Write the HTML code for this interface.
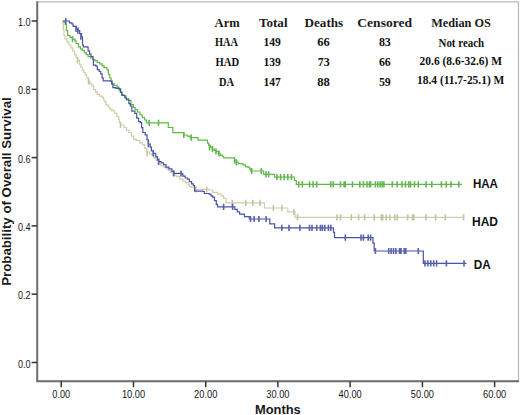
<!DOCTYPE html>
<html><head><meta charset="utf-8"><title>Kaplan-Meier Overall Survival</title>
<style>
html,body{margin:0;padding:0;background:#fff;}
body{width:520px;height:415px;overflow:hidden;font-family:"Liberation Sans", sans-serif;}
svg{display:block;}
</style></head><body>
<svg width="520" height="415" viewBox="0 0 520 415"><rect x="37.5" y="1.9" width="481" height="379.4" fill="none" stroke="#bdbdbd" stroke-width="1.3"/>
<path d="M37.2 1.2V381.2H519" fill="none" stroke="#6c6c6c" stroke-width="1.9"/>
<path d="M31.6 362.5H37" stroke="#333" stroke-width="1.5"/>
<text x="30.6" y="367.5" font-size="10.00" font-weight="normal" font-family='"Liberation Sans", sans-serif' fill="#161616" text-anchor="end" textLength="12.6" lengthAdjust="spacingAndGlyphs">0.0</text>
<path d="M31.6 294.2H37" stroke="#333" stroke-width="1.5"/>
<text x="30.6" y="299.2" font-size="10.00" font-weight="normal" font-family='"Liberation Sans", sans-serif' fill="#161616" text-anchor="end" textLength="12.6" lengthAdjust="spacingAndGlyphs">0.2</text>
<path d="M31.6 225.9H37" stroke="#333" stroke-width="1.5"/>
<text x="30.6" y="230.9" font-size="10.00" font-weight="normal" font-family='"Liberation Sans", sans-serif' fill="#161616" text-anchor="end" textLength="12.6" lengthAdjust="spacingAndGlyphs">0.4</text>
<path d="M31.6 157.6H37" stroke="#333" stroke-width="1.5"/>
<text x="30.6" y="162.6" font-size="10.00" font-weight="normal" font-family='"Liberation Sans", sans-serif' fill="#161616" text-anchor="end" textLength="12.6" lengthAdjust="spacingAndGlyphs">0.6</text>
<path d="M31.6 89.3H37" stroke="#333" stroke-width="1.5"/>
<text x="30.6" y="94.3" font-size="10.00" font-weight="normal" font-family='"Liberation Sans", sans-serif' fill="#161616" text-anchor="end" textLength="12.6" lengthAdjust="spacingAndGlyphs">0.8</text>
<path d="M31.6 21.0H37" stroke="#333" stroke-width="1.5"/>
<text x="30.6" y="26.0" font-size="10.00" font-weight="normal" font-family='"Liberation Sans", sans-serif' fill="#161616" text-anchor="end" textLength="12.6" lengthAdjust="spacingAndGlyphs">1.0</text>
<path d="M61.2 381.5V387.2" stroke="#333" stroke-width="1.5"/>
<text x="61.2" y="397.6" font-size="10.00" font-weight="normal" font-family='"Liberation Sans", sans-serif' fill="#161616" text-anchor="middle" textLength="17.8" lengthAdjust="spacingAndGlyphs">0.00</text>
<path d="M133.5 381.5V387.2" stroke="#333" stroke-width="1.5"/>
<text x="133.5" y="397.6" font-size="10.00" font-weight="normal" font-family='"Liberation Sans", sans-serif' fill="#161616" text-anchor="middle" textLength="23.2" lengthAdjust="spacingAndGlyphs">10.00</text>
<path d="M205.7 381.5V387.2" stroke="#333" stroke-width="1.5"/>
<text x="205.7" y="397.6" font-size="10.00" font-weight="normal" font-family='"Liberation Sans", sans-serif' fill="#161616" text-anchor="middle" textLength="23.2" lengthAdjust="spacingAndGlyphs">20.00</text>
<path d="M277.9 381.5V387.2" stroke="#333" stroke-width="1.5"/>
<text x="277.9" y="397.6" font-size="10.00" font-weight="normal" font-family='"Liberation Sans", sans-serif' fill="#161616" text-anchor="middle" textLength="23.2" lengthAdjust="spacingAndGlyphs">30.00</text>
<path d="M350.1 381.5V387.2" stroke="#333" stroke-width="1.5"/>
<text x="350.1" y="397.6" font-size="10.00" font-weight="normal" font-family='"Liberation Sans", sans-serif' fill="#161616" text-anchor="middle" textLength="23.2" lengthAdjust="spacingAndGlyphs">40.00</text>
<path d="M422.4 381.5V387.2" stroke="#333" stroke-width="1.5"/>
<text x="422.4" y="397.6" font-size="10.00" font-weight="normal" font-family='"Liberation Sans", sans-serif' fill="#161616" text-anchor="middle" textLength="23.2" lengthAdjust="spacingAndGlyphs">50.00</text>
<path d="M494.6 381.5V387.2" stroke="#333" stroke-width="1.5"/>
<text x="494.6" y="397.6" font-size="10.00" font-weight="normal" font-family='"Liberation Sans", sans-serif' fill="#161616" text-anchor="middle" textLength="23.2" lengthAdjust="spacingAndGlyphs">60.00</text>
<text x="254.9" y="414.4" font-size="13.20" font-weight="bold" font-family='"Liberation Sans", sans-serif' fill="#1a1a1a" text-anchor="start" textLength="45.9" lengthAdjust="spacingAndGlyphs">Months</text>
<g transform="translate(11.2 285.8) rotate(-90)"><text x="0.0" y="0.0" font-size="12.00" font-weight="bold" font-family='"Liberation Sans", sans-serif' fill="#1a1a1a" text-anchor="start" textLength="188.6" lengthAdjust="spacingAndGlyphs">Probability of Overall Survival</text></g>
<defs><filter id="bl" x="-5%" y="-5%" width="110%" height="110%"><feGaussianBlur stdDeviation="0.3"/></filter></defs>
<g filter="url(#bl)">
<path d="M62.3 21.5H62.8V24.0H63.4V29.5H64.0V35.5H65.2V39.1H67.0V42.1H68.9V45.0H70.8V47.9H72.7V50.8H74.6V54.6H76.1V57.5H77.5V60.4H79.5V64.3H80.9V67.2H82.3V70.1H83.8V72.5H85.2V74.9H86.7V77.8H88.6V81.6H90.1V83.6H91.8V85.9H93.6V89.5H95.4V91.9H97.2V94.3H99.6V96.1H102.0V97.3H103.6V100.0H104.8V101.8H106.0V104.8H108.4V107.2H110.0V109.4H112.0V110.8H114.5V113.3H116.9V116.3H118.7V119.3H119.3V122.3H120.5V125.0H124.1V127.7H126.5V130.1H128.9V132.5H131.3V136.1H133.7V139.2H136.1V140.4H139.8V142.8H142.4V144.8H144.8V148.4H146.6V152.0H149.6V153.9H152.0V155.7H153.9V158.1H156.3V160.5H158.1V164.7H161.1V165.9H164.1V167.7H166.5V168.9H168.3V170.7H170.7V172.5H173.1V174.9H176.1V176.7H179.8V179.2H182.8V181.0H185.8V182.8H188.2V184.6H189.6V186.3H191.0V187.3H194.6V189.3H209.1V190.0H212.7V192.3H217.5V194.1H221.1V195.9H223.6V198.3H226.0V202.9H263.7H264.5V208.0H286.5H287.8V211.8H294.5H295.0V217.3H464.5" fill="none" stroke="#cfcdac" stroke-width="1.2"/>
<path d="M77.5 57.3v6.2M88.6 78.5v6.2M120.5 121.9v6.2M147.2 150.2v6.2M196.0 186.2v6.2M206.7 186.4v6.2M232.3 199.8v6.2M245.7 199.8v6.2M252.8 199.8v6.2M260.0 199.8v6.2M273.4 204.9v6.2M281.8 204.9v6.2M293.9 208.7v6.2M297.5 214.2v6.2M336.9 214.2v6.2M340.5 214.2v6.2M351.3 214.2v6.2M358.6 214.2v6.2M364.6 214.2v6.2M374.2 214.2v6.2M381.4 214.2v6.2M382.7 214.2v6.2M386.3 214.2v6.2M389.9 214.2v6.2M394.7 214.2v6.2M397.1 214.2v6.2M407.7 214.2v6.2M412.5 214.2v6.2M413.8 214.2v6.2M426.0 214.2v6.2M435.6 214.2v6.2M445.3 214.2v6.2M463.6 214.2v6.2" fill="none" stroke="#c6c4a0" stroke-width="1.6"/>
<path d="M63.2 21.2H64.0V22.5H65.2V24.6H66.4V30.7H67.6V35.5H70.0V37.3H72.5V39.1H74.9V40.9H76.1V43.5H78.5V46.9H80.4V48.9H82.3V50.3H84.3V52.7H86.2V54.6H88.1V56.6H90.5V58.0H93.0V59.5H94.9V60.9H97.3V62.3H99.7V63.8H102.1V65.7H104.0V67.7H106.9V69.6H108.0V70.8H108.5V74.5H109.8V78.0H111.1V81.1H112.3V83.5H114.1V85.3H117.1V87.1H118.9V90.1H120.1V91.9H121.9V94.9H124.3V96.1H126.1V98.6H128.6V100.4H131.0V104.6H133.4V107.6H135.2V109.6H137.5V112.0H140.0V114.8H142.3V117.7H144.6V120.0H146.5V122.9H167.7H168.3V127.5H172.3H172.9V132.7H181.5H183.8V135.0H187.3V136.1H190.0V137.7H197.8H198.0V140.1H206.3H207.5V143.1H208.7V145.5H210.5V147.3H212.3V149.1H214.1V150.3H215.9V151.5H218.3V153.3H220.1V155.1H222.5V156.3H223.7V157.8H234.0H234.6V160.5H236.4V162.3H238.2V163.6H241.2H243.0V164.8H245.4V166.6H247.8V167.2H249.6V169.0H250.5V171.0H262.6H263.7V174.3H273.1H274.5V177.1H293.9H294.5V180.5H296.3V184.3H462.0" fill="none" stroke="#5fb948" stroke-width="1.2"/>
<path d="M72.5 36.0v6.2M149.2 119.8v6.2M158.5 119.8v6.2M183.8 131.9v6.2M191.2 134.6v6.2M209.5 144.2v6.2M212.5 146.0v6.2M216.0 148.4v6.2M219.0 150.2v6.2M234.6 157.4v6.2M236.4 159.2v6.2M251.7 167.9v6.2M261.3 167.9v6.2M266.1 171.2v6.2M268.6 171.2v6.2M277.0 174.0v6.2M280.6 174.0v6.2M284.2 174.0v6.2M287.8 174.0v6.2M291.4 174.0v6.2M298.7 181.2v6.2M302.3 181.2v6.2M309.5 181.2v6.2M313.1 181.2v6.2M316.7 181.2v6.2M330.8 181.2v6.2M333.3 181.2v6.2M340.5 181.2v6.2M344.1 181.2v6.2M345.3 181.2v6.2M352.5 181.2v6.2M359.8 181.2v6.2M363.4 181.2v6.2M367.0 181.2v6.2M369.4 181.2v6.2M370.6 181.2v6.2M375.4 181.2v6.2M377.8 181.2v6.2M380.2 181.2v6.2M382.2 181.2v6.2M383.9 181.2v6.2M392.3 181.2v6.2M397.1 181.2v6.2M401.9 181.2v6.2M405.5 181.2v6.2M408.7 181.2v6.2M410.6 181.2v6.2M414.5 181.2v6.2M418.3 181.2v6.2M426.0 181.2v6.2M431.8 181.2v6.2M441.4 181.2v6.2M446.2 181.2v6.2M451.1 181.2v6.2M458.8 181.2v6.2" fill="none" stroke="#66b552" stroke-width="1.6"/>
<path d="M62.8 21.0H68.8H69.4V22.8H71.9V24.0H73.1V26.4H76.1V28.9H77.9V30.7H79.7V33.7H81.5V36.7H82.3V38.5H82.5V45.0H83.3V46.9H87.2V47.2H88.1V50.8H89.6V54.2H91.0V56.6H93.0V59.5H93.4V65.2H95.8V66.2H97.3V69.6H99.2V71.5H100.7V73.9H102.1V77.8H103.2V80.8H109.9V81.1H111.7V84.1H112.9V87.7H115.9V88.3H119.5V88.9H120.7V92.5H121.9V95.5H124.9V98.0H126.5V100.0H128.9V103.6H130.4V106.0H131.9V111.2H134.9V113.3H136.7V118.1H138.6V121.7H140.4V122.3H141.6V127.7H142.8V132.5H145.2V134.9H147.0V139.8H148.4V144.2H150.2V147.2H151.4V150.8H153.3V153.3H155.7V156.9H157.5V159.9H158.7V161.7H161.1V162.9H163.5V164.7H165.9V167.1H168.9V168.9H171.9V171.3H173.7V173.3H181.0V173.5H182.8V176.1H185.2V178.0H187.6V179.2H189.4V181.6H191.6V183.9H193.4V185.7H194.6V191.1H203.1V191.5H204.3V193.5H209.1V194.1H210.9V195.9H212.7V197.1H214.5V200.7H216.3V204.3H217.5V206.8H232.8H234.8V209.4H237.2V211.8H239.6V214.2H244.5V216.6H249.3V219.0H267.3H269.8V223.9H274.6V227.9H332.5H333.5V232.3H334.5V237.6H372.0H373.0V243.1H374.2V251.0H423.1H423.3V263.4H466.5" fill="none" stroke="#4852a8" stroke-width="1.2"/>
<path d="M65.8 17.9v6.2M76.1 25.8v6.2M77.9 27.6v6.2M80.9 33.6v6.2M148.4 141.1v6.2M153.3 150.2v6.2M158.7 158.6v6.2M173.7 170.2v6.2M181.0 170.4v6.2M223.6 203.7v6.2M232.6 203.7v6.2M250.5 215.9v6.2M254.1 215.9v6.2M258.9 215.9v6.2M266.1 215.9v6.2M281.8 224.8v6.2M289.0 224.8v6.2M299.9 224.8v6.2M309.5 224.8v6.2M312.0 224.8v6.2M316.7 224.8v6.2M320.4 224.8v6.2M322.4 224.8v6.2M324.8 224.8v6.2M328.4 224.8v6.2M330.8 224.8v6.2M345.3 234.5v6.2M361.0 234.5v6.2M363.4 234.5v6.2M368.2 234.5v6.2M370.6 234.5v6.2M375.4 247.9v6.2M388.7 247.9v6.2M391.1 247.9v6.2M393.5 247.9v6.2M395.9 247.9v6.2M399.5 247.9v6.2M401.0 247.9v6.2M404.3 247.9v6.2M405.8 247.9v6.2M418.3 247.9v6.2M425.0 260.3v6.2M427.9 260.3v6.2M430.8 260.3v6.2M433.7 260.3v6.2M436.6 260.3v6.2M446.4 260.3v6.2M464.0 260.3v6.2" fill="none" stroke="#5a62aa" stroke-width="1.6"/>
</g>
<text x="472.9" y="188.3" font-size="13.00" font-weight="bold" font-family='"Liberation Sans", sans-serif' fill="#111" text-anchor="start" textLength="25.1" lengthAdjust="spacingAndGlyphs">HAA</text>
<text x="472.0" y="225.6" font-size="13.00" font-weight="bold" font-family='"Liberation Sans", sans-serif' fill="#111" text-anchor="start" textLength="26.0" lengthAdjust="spacingAndGlyphs">HAD</text>
<text x="473.8" y="269.0" font-size="13.00" font-weight="bold" font-family='"Liberation Sans", sans-serif' fill="#111" text-anchor="start" textLength="17.0" lengthAdjust="spacingAndGlyphs">DA</text>
<text x="214.6" y="27.4" font-size="13.20" font-weight="bold" font-family='"Liberation Serif", serif' fill="#1a1a1a" text-anchor="start" textLength="25.1" lengthAdjust="spacingAndGlyphs">Arm</text>
<text x="259.0" y="27.4" font-size="13.20" font-weight="bold" font-family='"Liberation Serif", serif' fill="#1a1a1a" text-anchor="start" textLength="28.5" lengthAdjust="spacingAndGlyphs">Total</text>
<text x="304.6" y="27.4" font-size="13.20" font-weight="bold" font-family='"Liberation Serif", serif' fill="#1a1a1a" text-anchor="start" textLength="38.6" lengthAdjust="spacingAndGlyphs">Deaths</text>
<text x="357.3" y="27.4" font-size="13.20" font-weight="bold" font-family='"Liberation Serif", serif' fill="#1a1a1a" text-anchor="start" textLength="54.7" lengthAdjust="spacingAndGlyphs">Censored</text>
<text x="431.2" y="27.4" font-size="13.20" font-weight="bold" font-family='"Liberation Serif", serif' fill="#1a1a1a" text-anchor="start" textLength="59.7" lengthAdjust="spacingAndGlyphs">Median OS</text>
<text x="215.0" y="46.2" font-size="11.90" font-weight="bold" font-family='"Liberation Serif", serif' fill="#111" text-anchor="start" textLength="23.1" lengthAdjust="spacingAndGlyphs">HAA</text>
<text x="263.4" y="46.2" font-size="11.90" font-weight="bold" font-family='"Liberation Serif", serif' fill="#111" text-anchor="start" textLength="17.4" lengthAdjust="spacingAndGlyphs">149</text>
<text x="317.2" y="46.2" font-size="11.90" font-weight="bold" font-family='"Liberation Serif", serif' fill="#111" text-anchor="start" textLength="12.5" lengthAdjust="spacingAndGlyphs">66</text>
<text x="378.9" y="46.2" font-size="11.90" font-weight="bold" font-family='"Liberation Serif", serif' fill="#111" text-anchor="start" textLength="11.9" lengthAdjust="spacingAndGlyphs">83</text>
<text x="438.5" y="46.5" font-size="11.90" font-weight="bold" font-family='"Liberation Serif", serif' fill="#111" text-anchor="start" textLength="45.7" lengthAdjust="spacingAndGlyphs">Not reach</text>
<text x="215.6" y="66.4" font-size="11.90" font-weight="bold" font-family='"Liberation Serif", serif' fill="#111" text-anchor="start" textLength="23.5" lengthAdjust="spacingAndGlyphs">HAD</text>
<text x="263.4" y="66.4" font-size="11.90" font-weight="bold" font-family='"Liberation Serif", serif' fill="#111" text-anchor="start" textLength="17.4" lengthAdjust="spacingAndGlyphs">139</text>
<text x="317.7" y="66.4" font-size="11.90" font-weight="bold" font-family='"Liberation Serif", serif' fill="#111" text-anchor="start" textLength="12.0" lengthAdjust="spacingAndGlyphs">73</text>
<text x="378.9" y="66.4" font-size="11.90" font-weight="bold" font-family='"Liberation Serif", serif' fill="#111" text-anchor="start" textLength="11.9" lengthAdjust="spacingAndGlyphs">66</text>
<text x="419.6" y="64.7" font-size="11.90" font-weight="bold" font-family='"Liberation Serif", serif' fill="#111" text-anchor="start" textLength="82.5" lengthAdjust="spacingAndGlyphs">20.6 (8.6-32.6) M</text>
<text x="218.9" y="85.6" font-size="11.90" font-weight="bold" font-family='"Liberation Serif", serif' fill="#111" text-anchor="start" textLength="15.0" lengthAdjust="spacingAndGlyphs">DA</text>
<text x="263.4" y="85.6" font-size="11.90" font-weight="bold" font-family='"Liberation Serif", serif' fill="#111" text-anchor="start" textLength="17.4" lengthAdjust="spacingAndGlyphs">147</text>
<text x="317.2" y="85.6" font-size="11.90" font-weight="bold" font-family='"Liberation Serif", serif' fill="#111" text-anchor="start" textLength="12.5" lengthAdjust="spacingAndGlyphs">88</text>
<text x="378.9" y="85.6" font-size="11.90" font-weight="bold" font-family='"Liberation Serif", serif' fill="#111" text-anchor="start" textLength="11.9" lengthAdjust="spacingAndGlyphs">59</text>
<text x="417.0" y="84.3" font-size="11.90" font-weight="bold" font-family='"Liberation Serif", serif' fill="#111" text-anchor="start" textLength="87.4" lengthAdjust="spacingAndGlyphs">18.4 (11.7-25.1) M</text></svg>
</body></html>
